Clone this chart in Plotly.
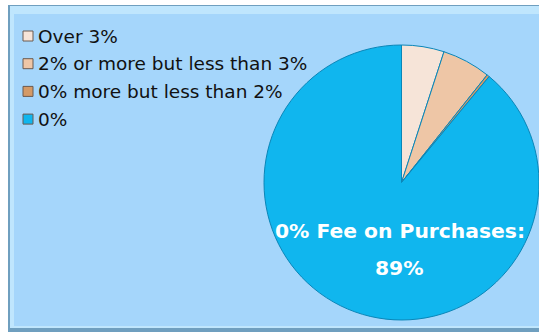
import plotly.graph_objects as go

categories = ["Over 3%", "2% or more but less than 3%", "0% more but less than 2%", "0%"]
values = [5.0, 5.7, 0.3, 89.0]
colors = ["#f6e4d8", "#eec6a6", "#d49a66", "#10b6ee"]
label_lines = ["0% Fee on Purchases:", "89%"]

W, H = 539, 332

fig = go.Figure()
fig.add_trace(go.Pie(
    labels=categories,
    values=values,
    sort=False,
    direction="clockwise",
    rotation=0,
    textinfo="none",
    hoverinfo="label+percent",
    marker=dict(colors=colors, line=dict(color="#0a86b8", width=1)),
    domain=dict(x=[264 / W, 1.0], y=[12 / H, 287 / H]),
    showlegend=False,
))

shapes = [
    # bevelled frame
    dict(type="rect", xref="paper", yref="paper", x0=8 / W, x1=1.0, y0=0, y1=1 - 5 / H,
         fillcolor="#6f9fbf", line=dict(width=0), layer="below"),
    dict(type="rect", xref="paper", yref="paper", x0=10 / W, x1=1.0, y0=4 / H, y1=1 - 6 / H,
         fillcolor="#bfe6fd", line=dict(width=0), layer="below"),
    dict(type="rect", xref="paper", yref="paper", x0=14 / W, x1=1.0, y0=6 / H, y1=1 - 14 / H,
         fillcolor="#a5d6fb", line=dict(width=0), layer="below"),
]

annotations = [
    dict(x=400 / W, y=1 - 231 / H, xref="paper", yref="paper", text="<b>" + label_lines[0] + "</b>",
         showarrow=False, font=dict(color="white", size=20.3, family="DejaVu Sans"),
         xanchor="center", yanchor="middle"),
    dict(x=400 / W, y=1 - 268 / H, xref="paper", yref="paper", text="<b>" + label_lines[1] + "</b>",
         showarrow=False, font=dict(color="white", size=20.3, family="DejaVu Sans"),
         xanchor="center", yanchor="middle"),
]

# legend drawn as swatches + text, one row per category
legend_top, legend_step = 36, 27.7
for i, (cat, col) in enumerate(zip(categories, colors)):
    yc = legend_top + i * legend_step
    shapes.append(dict(type="rect", xref="paper", yref="paper",
                       x0=23 / W, x1=33 / W, y0=1 - (yc + 5) / H, y1=1 - (yc - 5) / H,
                       fillcolor=col, line=dict(color="#6a5a50", width=1)))
    annotations.append(dict(x=36 / W, y=1 - yc / H, xref="paper", yref="paper", text=cat,
                            showarrow=False, xanchor="left", yanchor="middle",
                            font=dict(family="DejaVu Sans", size=18.5, color="#111111")))

fig.update_layout(
    width=W, height=H,
    margin=dict(l=0, r=0, t=0, b=0),
    paper_bgcolor="white",
    plot_bgcolor="rgba(0,0,0,0)",
    shapes=shapes,
    annotations=annotations,
    showlegend=False,
)

fig.write_html("out.html")
